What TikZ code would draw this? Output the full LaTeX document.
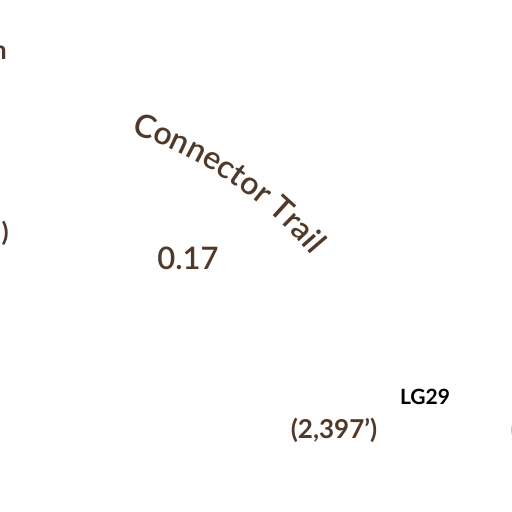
\documentclass[tikz,border=0pt]{standalone}
\usepackage{fontspec}
\setmainfont{Lato}
\newfontfamily\latosemi{Lato Semibold}
\usetikzlibrary{decorations.text}
\definecolor{trailbrown}{RGB}{80,57,40}
\definecolor{fadegray}{RGB}{150,140,135}
\tikzset{
  lbl/.style={inner sep=0pt, text=trailbrown, font=\bfseries\fontsize{26}{26}\selectfont},
  val/.style={inner sep=0pt, text=trailbrown, font=\latosemi\fontsize{31}{31}\selectfont},
  code/.style={inner sep=0pt, text=black, font=\bfseries\fontsize{21}{21}\selectfont},
}
\begin{document}
\begin{tikzpicture}[x=1pt,y=1pt]
\useasboundingbox (0,0) rectangle (512,512);
\coordinate (ctr) at (7,0);
\path[decorate, decoration={text along path, text align=center,
  text={|\latosemi\fontsize{32}{32}\selectfont\color{trailbrown}|Connector Trail}}]
  (ctr) ++(86:398) arc[start angle=86, end angle=26, radius=398];
\node[val] (v) at (188,254) {0.17};
\node[code] (lg) at (425,115) {LG29};
\node[lbl] (el) at (334,82) {(2,397')};
\node[lbl, anchor=east] (lp) at (9,279) {)};
\node[lbl, anchor=base east] (ln) at (7,452) {n};
\node[lbl, anchor=west, text=fadegray] (rp) at (510.5,82) {(};
\end{tikzpicture}
\end{document}
